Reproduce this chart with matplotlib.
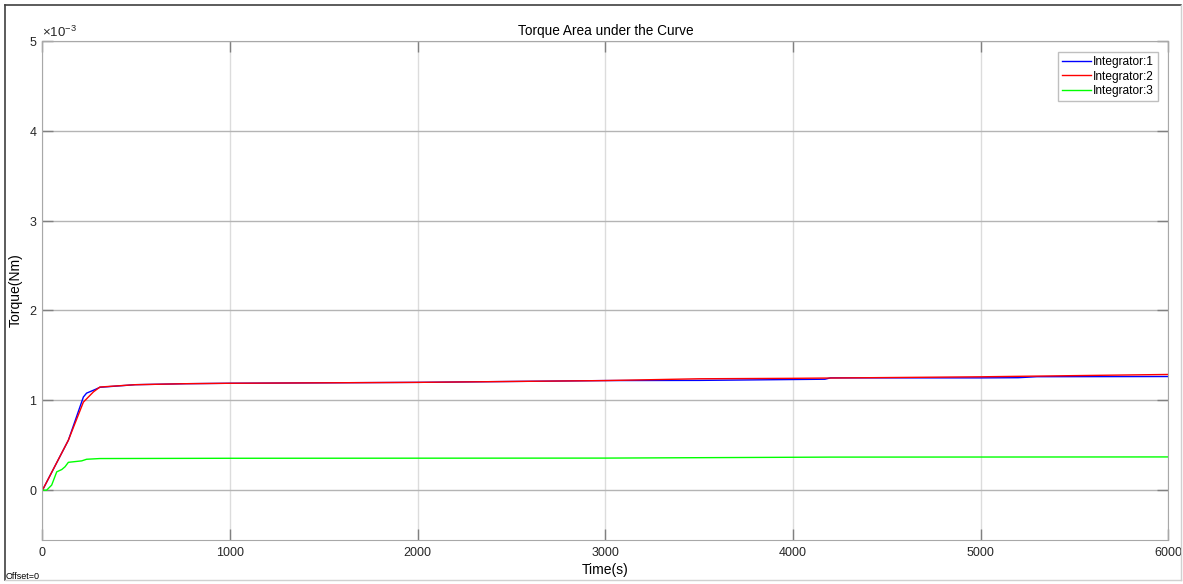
"""
Torque area under the curve - three integrator outputs over time.
"""

import numpy as np
import matplotlib

matplotlib.use("Agg")
import matplotlib.pyplot as plt
from matplotlib.lines import Line2D
from matplotlib.ticker import ScalarFormatter

plt.rcParams["font.family"] = ["Liberation Sans", "DejaVu Sans"]
plt.rcParams["mathtext.fontset"] = "custom"
plt.rcParams["mathtext.rm"] = "Liberation Sans"
plt.rcParams["mathtext.it"] = "Liberation Sans"

# Integrator:1 (blue), values in units of 1e-3 Nm
t1 = [0, 138, 218, 235, 280, 306, 493, 760, 1000, 2000, 3000, 3500, 4170, 4200, 5000, 5200, 5300, 6000]
y1 = [0, 0.556, 1.037, 1.08, 1.12, 1.145, 1.174, 1.185, 1.19, 1.20, 1.22, 1.222, 1.235, 1.25, 1.25, 1.252, 1.263, 1.265]

# Integrator:2 (red)
t2 = [0, 138, 218, 271, 306, 493, 760, 1000, 2000, 3000, 3500, 4000, 5000, 6000]
y2 = [0, 0.556, 0.98, 1.093, 1.148, 1.174, 1.185, 1.19, 1.20, 1.22, 1.24, 1.245, 1.262, 1.288]

# Integrator:3 (green)
t3 = [0, 22, 49, 76, 103, 120, 138, 209, 235, 306, 1000, 3000, 4200, 6000]
y3 = [0, 0, 0.056, 0.204, 0.23, 0.26, 0.31, 0.326, 0.344, 0.352, 0.355, 0.357, 0.368, 0.37]

labels = ["Integrator:1", "Integrator:2", "Integrator:3"]
colors = ["#0000ff", "#ff0000", "#00ff00"]


def plot_integrators():
    fig = plt.figure(figsize=(11.83, 5.84), dpi=100)
    ax = fig.add_axes([0.0359, 0.0753, 0.9517, 0.8545])

    for t, y, lab, col in zip([t1, t2, t3], [y1, y2, y3], labels, colors):
        ax.plot(np.array(t), np.array(y) * 1e-3, color=col, lw=1.0, label=lab)

    ax.set_xlim(0, 6000)
    ax.set_ylim(-0.555e-3, 5e-3)
    ax.set_xticks(np.arange(0, 6001, 1000))
    ax.set_yticks(np.arange(0, 5.1, 1) * 1e-3)

    fmt = ScalarFormatter(useMathText=True)
    fmt.set_powerlimits((-2, 2))
    ax.yaxis.set_major_formatter(fmt)
    ax.yaxis.get_offset_text().set_fontsize(9.5)

    # MATLAB-like grid: vertical faint, horizontal a bit darker
    ax.xaxis.grid(True, color="#dcdcdc", lw=1.0)
    ax.yaxis.grid(True, color="#b4b4b4", lw=1.0)
    ax.set_axisbelow(True)

    ax.tick_params(direction="in", length=8, width=1, color="#808080",
                   labelsize=9, labelcolor="#262626", top=True, right=True)
    ax.tick_params(axis="x", pad=5)
    ax.tick_params(axis="y", pad=3.6)
    for s in ax.spines.values():
        s.set_color("#a8a8a8")

    ax.set_title("Torque Area under the Curve", fontsize=9.8, pad=4)
    ax.set_xlabel("Time(s)", fontsize=10, labelpad=3)
    ax.set_ylabel("Torque(Nm)", fontsize=10)
    ax.yaxis.set_label_coords(-0.0177, 0.5)

    leg = ax.legend(loc="upper right", fontsize=8.6, frameon=True, fancybox=False,
                    borderaxespad=0.9, handlelength=2.4, handletextpad=0.15,
                    labelspacing=0.22, borderpad=0.35)
    leg.get_frame().set_edgecolor("#b0b0b0")
    leg.get_frame().set_linewidth(1.0)

    fig.text(0.005, 0.005, "Offset=0", fontsize=6.5, ha="left", va="bottom")

    # outer frame of the scope window
    fig.add_artist(Line2D([0.004, 0.004], [0.006, 0.992], color="#404040", lw=1.2,
                          transform=fig.transFigure))
    fig.add_artist(Line2D([0.004, 0.998], [0.992, 0.992], color="#404040", lw=1.2,
                          transform=fig.transFigure))
    fig.add_artist(Line2D([0.998, 0.998], [0.006, 0.992], color="#d0d0d0", lw=1.0,
                          transform=fig.transFigure))
    fig.add_artist(Line2D([0.004, 0.998], [0.006, 0.006], color="#d0d0d0", lw=1.0,
                          transform=fig.transFigure))

    fig.savefig("out.png", dpi=100)


if __name__ == "__main__":
    plot_integrators()
